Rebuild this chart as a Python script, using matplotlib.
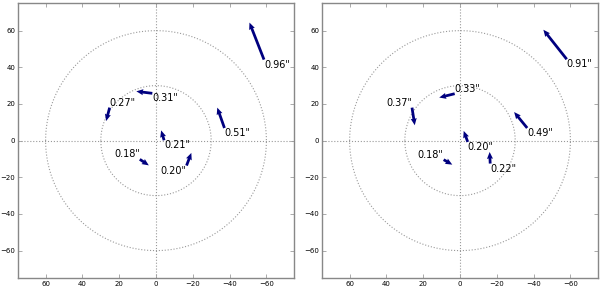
import matplotlib.pyplot as plt
import numpy as np

# star positions (tails of the arrows), same in both panels
x_left = [-58.7, -37.2, 2.0, 25.2, -4.4, -16.6, 8.8]
y_left = [44.2, 6.9, 25.8, 18.0, 0.2, -13.6, -10.2]
u_left = [7.9, 3.9, 8.7, 1.9, 1.6, -2.6, -4.9]
v_left = [20.2, 11.1, 1.1, -7.3, 5.4, 6.9, -3.3]
lab_left = ['0.96"', '0.51"', '0.31"', '0.27"', '0.21"', '0.20"', '0.18"']

x_right = [-58.0, -36.5, 2.9, 26.1, -4.2, -16.4, 8.9]
y_right = [44.4, 6.9, 25.6, 18.0, -0.7, -12.5, -10.4]
u_right = [12.7, 7.1, 8.4, -1.5, 2.2, 0.3, -4.7]
v_right = [16.1, 8.7, -2.1, -9.6, 6.0, 6.3, -2.7]
lab_right = ['0.91"', '0.49"', '0.33"', '0.37"', '0.20"', '0.22"', '0.18"']

ticks = [60, 40, 20, 0, -20, -40, -60]

fig = plt.figure(figsize=(6, 2.87), dpi=100)
ax1 = fig.add_axes([0.03, 0.031, 0.46, 0.958])
ax2 = fig.add_axes([0.5367, 0.031, 0.46, 0.958])

t = np.linspace(0, 2 * np.pi, 300)

def panel(ax, x, y, u, v, labels):
    for r in (30, 60):
        ax.plot(r * np.cos(t), r * np.sin(t), ':', color='#999999', lw=0.8)
    ax.axhline(0, ls=':', color='#999999', lw=0.8)
    ax.axvline(0, ls=':', color='#999999', lw=0.8)
    ax.quiver(x, y, u, v, angles='xy', scale_units='xy', scale=1,
              color='#00007f', width=0.010, headwidth=2.2, headlength=2.5,
              headaxislength=2.3, zorder=3)
    for xi, yi, ui, vi, s in zip(x, y, u, v, labels):
        ha = 'left' if ui > 0 else 'right'
        va = 'top' if vi > 0 else 'bottom'
        ax.text(xi, yi, s, ha=ha, va=va, fontsize=7, zorder=4)
    ax.set_xlim(75, -75)
    ax.set_ylim(-75, 75)
    ax.set_xticks(ticks)
    ax.set_yticks(ticks)
    ax.tick_params(direction='in', top=True, right=True, labelsize=5,
                   length=3, width=0.5, color='#888888', pad=2)
    for sp in ax.spines.values():
        sp.set_color('#888888')
        sp.set_linewidth(1.0)

panel(ax1, x_left, y_left, u_left, v_left, lab_left)
panel(ax2, x_right, y_right, u_right, v_right, lab_right)

fig.savefig('out.png', dpi=100)
